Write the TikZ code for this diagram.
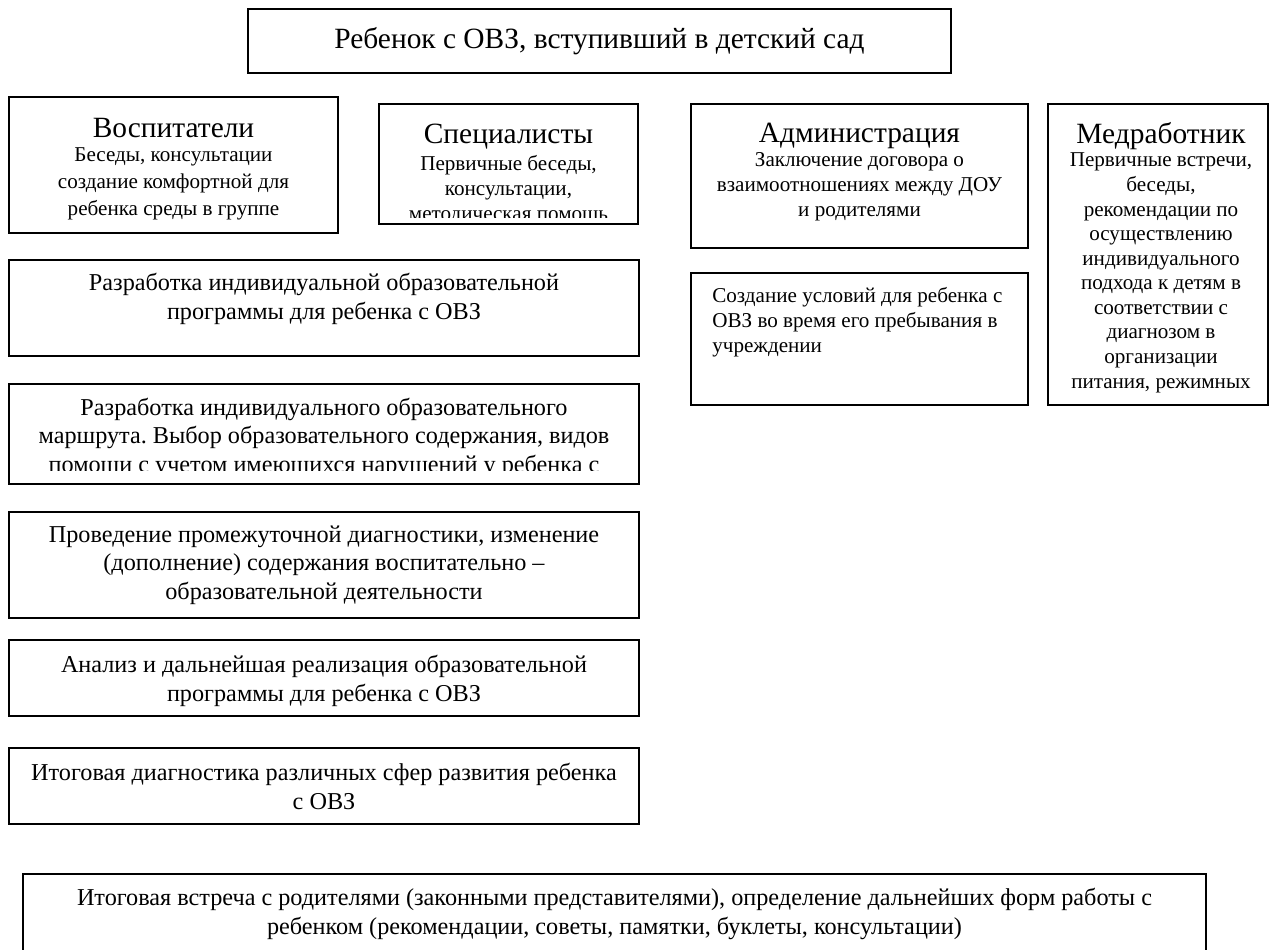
\documentclass[tikz,border=0pt]{standalone}
\usepackage{fontspec}
\setmainfont{Liberation Serif}
\frenchspacing

\newcommand{\pxu}{0.578pt}

\tikzset{
	bloco/.style 2 args={draw, line width=0.9pt, minimum width=#1*\pxu, minimum height=#2*\pxu, inner sep=0pt},
	cabeca/.style={font=\fontsize{17}{19}\selectfont, anchor=base, inner sep=0pt},
	texto/.style={font=\fontsize{14}{16.2}\selectfont, align=center, anchor=base, inner sep=0pt},
	miudo/.style={font=\fontsize{12.2}{14.2}\selectfont, align=center, anchor=base, inner sep=0pt}
}

\begin{document}
\begin{tikzpicture}[x=\pxu, y=-\pxu]
	
		\useasboundingbox (0, 0) rectangle (1269, 949);
		\clip (0, 0) rectangle (1269, 949);
	
		% Titulo (textos: base da ultima linha)
		
		\draw node[bloco={703}{64}] (rebenok) at (599.5, 41) {};
		
		\draw node[cabeca] (rebenok-t) at (599.5, 48) {Ребенок с ОВЗ, вступивший в детский сад};
		
		% Linha de cima
		
		\draw node[bloco={329}{136}] (vospit) at (173.5, 165) {};
		
		\draw node[cabeca] (vospit-h) at (173.5, 137) {Воспитатели};
		
		\draw node[miudo, font=\fontsize{12.2}{15.6}\selectfont] (vospit-t) at (173.5, 215) {Беседы, консультации\\создание комфортной для\\ребенка среды в группе};
		
		\draw node[bloco={259}{120}] (spec) at (508.5, 164) {};
		
		\draw node[cabeca] (spec-h) at (508.5, 143) {Специалисты};
		
		\begin{scope}
			\clip (379, 104) rectangle (638, 217);
			\draw node[miudo] (spec-t) at (508.5, 220) {Первичные беседы,\\консультации,\\методическая помощь};
		\end{scope}
		
		\draw node[bloco={337}{144}] (admin) at (859.5, 176) {};
		
		\draw node[cabeca] (admin-h) at (859.5, 142) {Администрация};
		
		\draw node[miudo] (admin-t) at (859.5, 216) {Заключение договора о\\взаимоотношениях между ДОУ\\и родителями};
		
		\draw node[bloco={220}{301}] (medrab) at (1158, 254.5) {};
		
		\draw node[cabeca] (medrab-h) at (1161, 143) {Медработник};
		
		\draw node[miudo] (medrab-t) at (1161, 388) {Первичные встречи,\\беседы,\\рекомендации по\\осуществлению\\индивидуального\\подхода к детям в\\соответствии с\\диагнозом в\\организации\\питания, режимных};
		
		\draw node[bloco={337}{132}] (uslov) at (859.5, 339) {};
		
		\draw node[miudo, align=left, anchor=base west] (uslov-t) at (712, 352) {Создание условий для ребенка с\\ОВЗ во время его пребывания в\\учреждении};
		
		% Coluna da esquerda
		
		\draw node[bloco={630}{96}] (iop) at (324, 308) {};
		
		\draw node[texto] (iop-t) at (324, 319) {Разработка индивидуальной образовательной\\программы для ребенка с ОВЗ};
		
		\draw node[bloco={630}{100}] (marshrut) at (324, 434) {};
		
		\begin{scope}
			\clip (9, 384) rectangle (639, 470);
			\draw node[texto] (marshrut-t) at (324, 472) {Разработка индивидуального образовательного\\маршрута. Выбор образовательного содержания, видов\\помощи с учетом имеющихся нарушений у ребенка с};
		\end{scope}
		
		\draw node[bloco={630}{106}] (diagn) at (324, 565) {};
		
		\draw node[texto] (diagn-t) at (324, 599) {Проведение промежуточной диагностики, изменение\\(дополнение) содержания воспитательно –\\образовательной деятельности};
		
		\draw node[bloco={630}{76}] (analiz) at (324, 678) {};
		
		\draw node[texto] (analiz-t) at (324, 701) {Анализ и дальнейшая реализация образовательной\\программы для ребенка с ОВЗ};
		
		\draw node[bloco={630}{76}] (itog) at (324, 786) {};
		
		\draw node[texto] (itog-t) at (324, 809) {Итоговая диагностика различных сфер развития ребенка\\с ОВЗ};
		
		% Embaixo
		
		\draw node[bloco={1183}{106}] (vstrecha) at (614.5, 927) {};
		
		\draw node[texto] (vstrecha-t) at (614.5, 934) {Итоговая встреча с родителями (законными представителями), определение дальнейших форм работы с\\ребенком (рекомендации, советы, памятки, буклеты, консультации)};
		
	\end{tikzpicture}
\end{document}
